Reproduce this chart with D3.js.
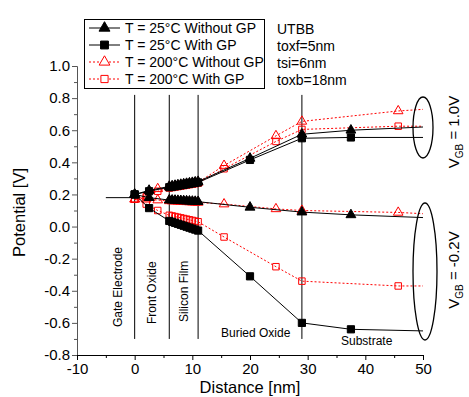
<!DOCTYPE html>
<html>
<head>
<meta charset="utf-8">
<script src="https://cdn.jsdelivr.net/npm/d3@7"></script>
<style>
  body { margin: 0; background: #fff; }
  svg text { font-family: "Liberation Sans", Arial, sans-serif; fill: #000; }
</style>
</head>
<body>
<svg id="chart" width="469" height="397"></svg>
<script>
// Distance points (nm) used by the simulation markers
const siliconX = [6, 6.5, 7, 7.5, 8, 8.5, 9, 9.5, 10, 10.5, 11];
const x25 = [0, 2.5, ...siliconX, 20, 29, 37.5];
const x200 = [0, 2, 4, ...siliconX, 15.5, 24.5, 29, 45.7];
const endX = 50;

// T = 25°C Without GP (filled triangles)
const noGp25High = [0.20, 0.225, 0.250, 0.253, 0.256, 0.259, 0.262, 0.265, 0.268, 0.271, 0.274, 0.277, 0.280, 0.425, 0.575, 0.600];
const noGp25Low = [0.20, 0.180, 0.165, 0.164, 0.163, 0.162, 0.161, 0.160, 0.159, 0.158, 0.157, 0.156, 0.155, 0.120, 0.090, 0.073];
// T = 25°C With GP (filled squares)
const gp25High = [0.20, 0.220, 0.245, 0.248, 0.251, 0.254, 0.257, 0.260, 0.263, 0.266, 0.269, 0.272, 0.275, 0.415, 0.550, 0.555];
const gp25Low = [0.20, 0.115, 0.035, 0.029, 0.023, 0.017, 0.011, 0.005, -0.001, -0.007, -0.013, -0.019, -0.025, -0.310, -0.600, -0.640];
// T = 200°C Without GP (open triangles)
const noGp200High = [0.17, 0.190, 0.235, 0.245, 0.248, 0.251, 0.254, 0.257, 0.260, 0.263, 0.266, 0.269, 0.272, 0.275, 0.380, 0.565, 0.655, 0.720];
const noGp200Low = [0.17, 0.170, 0.165, 0.160, 0.159, 0.158, 0.157, 0.156, 0.155, 0.154, 0.153, 0.152, 0.151, 0.150, 0.140, 0.110, 0.100, 0.088];
// T = 200°C With GP (open squares)
const gp200High = [0.17, 0.185, 0.220, 0.240, 0.243, 0.246, 0.249, 0.252, 0.255, 0.258, 0.261, 0.264, 0.267, 0.270, 0.360, 0.530, 0.605, 0.625];
const gp200Low = [0.17, 0.140, 0.100, 0.070, 0.066, 0.062, 0.058, 0.054, 0.050, 0.046, 0.042, 0.038, 0.034, 0.030, -0.065, -0.250, -0.340, -0.370];

// line values at x = 50 (no marker)
const endNoGp25 = [0.620, 0.056];
const endGp25 = [0.555, -0.650];
const endNoGp200 = [0.730, 0.080];
const endGp200 = [0.625, -0.370];

// gate electrode potential, flat from -5 to 0
const gateLineX = [-5, 0];
const gateLineV = [0.18, 0.18];

const legendLabels = ["T = 25°C Without GP", "T = 25°C With GP", "T = 200°C Without GP", "T = 200°C With GP"];
const infoLines = ["UTBB", "toxf=5nm", "tsi=6nm", "toxb=18nm"];
const boundaries = [0, 6, 11, 29];
const xTicks = [-10, 0, 10, 20, 30, 40, 50];
const yTicks = [-0.8, -0.6, -0.4, -0.2, 0, 0.2, 0.4, 0.6, 0.8, 1.0];

const svg = d3.select('#chart');
const x = d3.scaleLinear().domain([-10, 50]).range([77, 423]);
const y = d3.scaleLinear().domain([-0.8, 1.0]).range([355, 66]);

// Series definitions
const series = [
  { xs: x25, high: noGp25High, low: noGp25Low, end: endNoGp25, color: '#000', dash: null, shape: d3.symbolTriangle, size: 42, fill: true },
  { xs: x25, high: gp25High, low: gp25Low, end: endGp25, color: '#000', dash: null, shape: d3.symbolSquare, size: 52, fill: true },
  { xs: x200, high: noGp200High, low: noGp200Low, end: endNoGp200, color: '#ff0000', dash: '2,2', shape: d3.symbolTriangle, size: 40, fill: false },
  { xs: x200, high: gp200High, low: gp200Low, end: endGp200, color: '#ff0000', dash: '2,2', shape: d3.symbolSquare, size: 42, fill: false }
];

const line = d3.line().x(d => x(d[0])).y(d => y(d[1]));

// Region boundaries
svg.append('g')
  .selectAll('line')
  .data(boundaries)
  .enter()
  .append('line')
  .attr('x1', d => x(d)).attr('x2', d => x(d))
  .attr('y1', y(0.82)).attr('y2', y(-0.70))
  .attr('stroke', '#000').attr('stroke-width', 1);

svg.append('path')
  .datum(gateLineX.map((d, i) => [d, gateLineV[i]]))
  .attr('d', line)
  .attr('fill', 'none').attr('stroke', '#000').attr('stroke-width', 1);

// Draw red series first so black stays on top
[2, 3, 0, 1].forEach(k => {
  const s = series[k];
  ['high', 'low'].forEach((branch, bi) => {
    const pts = s.xs.map((d, i) => [d, s[branch][i]]);
    const linePts = pts.concat([[endX, s.end[bi]]]);
    svg.append('path')
      .datum(linePts)
      .attr('d', line)
      .attr('fill', 'none')
      .attr('stroke', s.color)
      .attr('stroke-width', 1)
      .attr('stroke-dasharray', s.dash);

    svg.append('g')
      .selectAll('path')
      .data(pts)
      .enter()
      .append('path')
      .attr('d', d3.symbol().type(s.shape).size(s.size))
      .attr('transform', d => `translate(${x(d[0])},${y(d[1])})`)
      .attr('fill', s.fill ? s.color : '#fff')
      .attr('fill-opacity', s.fill ? 1 : 0)
      .attr('stroke', s.color)
      .attr('stroke-width', 1);
  });
});

// Axes
const yAxis = svg.append('g')
  .attr('transform', `translate(${x(-10)},0)`)
  .call(d3.axisLeft(y).tickValues(yTicks).tickSize(5).tickFormat(d => d.toFixed(1)));
yAxis.select('.domain').attr('stroke', '#555');
yAxis.selectAll('.tick line').attr('stroke', '#555');
yAxis.selectAll('text').attr('font-size', 15).attr('x', -7);

svg.append('g')
  .attr('transform', `translate(${x(-10)},0)`)
  .call(d3.axisLeft(y).tickValues(d3.range(-7, 10, 2).map(d => d / 10)).tickSize(3).tickFormat(''))
  .call(g => g.select('.domain').remove())
  .selectAll('.tick line').attr('stroke', '#555');

const xAxis = svg.append('g')
  .attr('transform', `translate(0,${y(-0.8)})`)
  .call(d3.axisBottom(x).tickValues(xTicks).tickSize(5).tickFormat(d => String(d)));
xAxis.select('.domain').attr('stroke', '#000');
xAxis.selectAll('text').attr('font-size', 15).attr('y', 8);

svg.append('g')
  .attr('transform', `translate(0,${y(-0.8)})`)
  .call(d3.axisBottom(x).tickValues([-5, 5, 15, 25, 35, 45]).tickSize(3).tickFormat(''))
  .call(g => g.select('.domain').remove());

// Axis titles
svg.append('text')
  .attr('x', x(20)).attr('y', 393)
  .attr('text-anchor', 'middle')
  .attr('font-size', 16.5)
  .text('Distance [nm]');

svg.append('text')
  .attr('transform', `translate(25,${(y(-0.8) + y(1.0)) / 2 + 2}) rotate(-90)`)
  .attr('text-anchor', 'middle')
  .attr('font-size', 16.5)
  .text('Potential [V]');

// Region labels
const regionRot = [
  { text: 'Gate Electrode', px: 122, py: 327 },
  { text: 'Front Oxide', px: 156, py: 324 },
  { text: 'Silicon Film', px: 188, py: 322 }
];
regionRot.forEach(r => {
  svg.append('text')
    .attr('transform', `translate(${r.px},${r.py}) rotate(-90)`)
    .attr('font-size', 12)
    .text(r.text);
});
svg.append('text').attr('x', 221).attr('y', 337).attr('font-size', 12).text('Buried Oxide');
svg.append('text').attr('x', 341).attr('y', 345).attr('font-size', 12).text('Substrate');

// Info text
svg.append('g')
  .selectAll('text')
  .data(infoLines)
  .enter()
  .append('text')
  .attr('x', 277)
  .attr('y', (d, i) => 34 + i * 17)
  .attr('font-size', 14)
  .text(d => d);

// Ellipses around the two bias groups
svg.append('ellipse').attr('cx', 423).attr('cy', 127.5).attr('rx', 10).attr('ry', 30.5)
  .attr('fill', 'none').attr('stroke', '#000').attr('stroke-width', 1.3);
svg.append('ellipse').attr('cx', 425).attr('cy', 271.5).attr('rx', 12).attr('ry', 68.5)
  .attr('fill', 'none').attr('stroke', '#000').attr('stroke-width', 1.3);

// V_GB labels
function vgbLabel(cy, value) {
  const t = svg.append('text')
    .attr('transform', `translate(459,${cy}) rotate(-90)`)
    .attr('text-anchor', 'middle')
    .attr('font-size', 15);
  t.append('tspan').text('V');
  t.append('tspan').attr('font-size', 10).attr('dy', 4).text('GB');
  t.append('tspan').attr('dy', -4).text(' = ' + value);
}
vgbLabel(132, '1.0V');
vgbLabel(270, '-0.2V');

// Legend
const legend = svg.append('g');
legend.append('rect')
  .attr('x', 84.5).attr('y', 19.5).attr('width', 180).attr('height', 69)
  .attr('fill', '#fff').attr('stroke', '#000').attr('stroke-width', 1);

series.forEach((s, i) => {
  const cy = 28 + i * 17;
  legend.append('line')
    .attr('x1', 89).attr('x2', 120).attr('y1', cy).attr('y2', cy)
    .attr('stroke', s.color).attr('stroke-width', 1)
    .attr('stroke-dasharray', s.dash);
  legend.append('path')
    .attr('d', d3.symbol().type(s.shape).size(s.size + 10))
    .attr('transform', `translate(104.5,${cy})`)
    .attr('fill', s.fill ? s.color : '#fff')
    .attr('stroke', s.color).attr('stroke-width', 1);
  legend.append('text')
    .attr('x', 125).attr('y', cy + 5)
    .attr('font-size', 14)
    .text(legendLabels[i]);
});
</script>
</body>
</html>
